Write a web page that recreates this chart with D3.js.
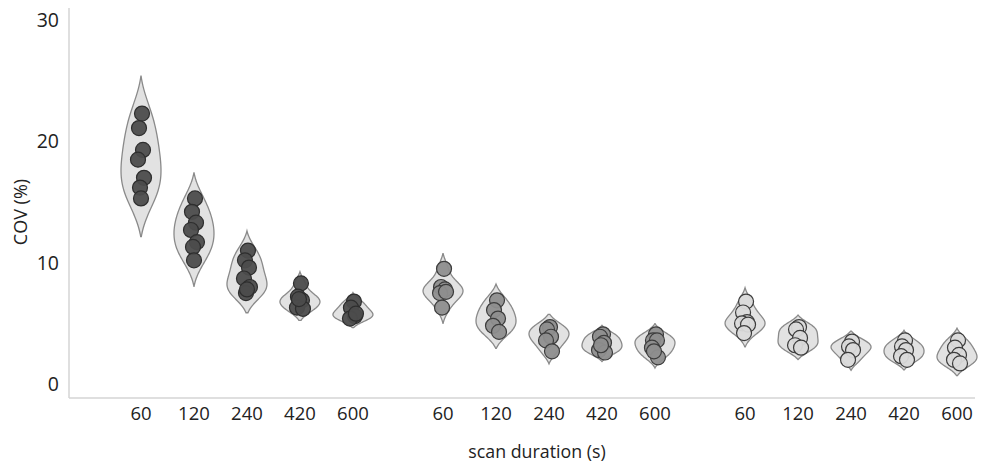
<!DOCTYPE html>
<html>
<head>
<meta charset="utf-8">
<script src="https://cdn.jsdelivr.net/npm/d3@7"></script>
<style>
  body { margin: 0; background: #fff; }
  svg { display: block; font-family: "Open Sans", sans-serif; }
</style>
</head>
<body>
<svg id="chart" width="983" height="463"></svg>
<script>
// ---- data ----
const durations = ["60", "120", "240", "420", "600"];
const groups = ["A", "B", "C"];
const yTicks = [0, 10, 20, 30];
const xTitle = "scan duration (s)";
const yTitle = "COV (%)";

// COV values (%) per scan duration, group A (dark)
const groupA = [
  [22.3, 21.1, 19.3, 18.5, 17.0, 16.2, 15.3],
  [15.3, 14.2, 13.3, 12.7, 11.7, 11.3, 10.2],
  [11.0, 10.2, 9.6, 8.7, 8.0, 7.5, 7.8],
  [8.3, 7.2, 6.9, 6.3, 6.2, 7.0],
  [6.8, 6.3, 5.6, 5.4, 5.8]
];
// group B (medium gray)
const groupB = [
  [9.5, 8.0, 7.8, 7.5, 7.6, 6.3],
  [6.9, 6.1, 5.4, 4.8, 4.3],
  [4.7, 4.5, 3.9, 3.6, 2.7],
  [4.1, 3.9, 3.4, 2.8, 2.6, 3.2],
  [4.1, 3.6, 3.6, 3.0, 2.2, 2.7]
];
// group C (light gray)
const groupC = [
  [6.8, 5.9, 5.1, 5.0, 4.9, 4.2],
  [4.7, 4.5, 3.8, 3.2, 3.0],
  [3.5, 3.1, 2.8, 2.0],
  [3.6, 3.1, 2.8, 2.3, 2.0],
  [3.6, 3.0, 2.4, 2.0, 1.7]
];
const seriesData = [groupA, groupB, groupC];
const dotFill = ["#4c4c4c", "#8e8e8e", "#dadada"];
const dotStroke = ["#2e2e2e", "#3c3c3c", "#3c3c3c"];

// ---- layout ----
const svg = d3.select("#chart");
const slotGap = 5.7;
const x = d3.scaleLinear().domain([0, 2 * slotGap + 4]).range([141, 957]);
const y = d3.scaleLinear().domain([-1.15, 31]).range([398, 8]);
const halfWidth = 20;
const r = 7.5;

// axes lines
svg.append("line").attr("x1", 69).attr("x2", 69).attr("y1", y(31)).attr("y2", y(-1.15))
  .attr("stroke", "#d4d4d4").attr("stroke-width", 1.5);
svg.append("line").attr("x1", 69).attr("x2", 975).attr("y1", y(-1.15)).attr("y2", y(-1.15))
  .attr("stroke", "#d4d4d4").attr("stroke-width", 1.5);

// y tick labels
svg.append("g").selectAll("text").data(yTicks).join("text")
  .attr("x", 59).attr("y", d => y(d)).attr("dy", "0.36em")
  .attr("text-anchor", "end").attr("font-size", 19.5).attr("fill", "#222")
  .text(d => d);

// y title
svg.append("text").attr("transform", `translate(27,212) rotate(-90)`)
  .attr("text-anchor", "middle").attr("font-size", 18).attr("fill", "#222").text(yTitle);

// x tick labels
const xLabels = [];
groups.forEach((g, gi) => durations.forEach((d, di) => xLabels.push({ s: gi * slotGap + di, t: d })));
svg.append("g").selectAll("text").data(xLabels).join("text")
  .attr("x", d => x(d.s)).attr("y", 413).attr("dy", "0.36em")
  .attr("text-anchor", "middle").attr("font-size", 18.5).attr("fill", "#222")
  .text(d => d.t);

svg.append("text").attr("x", 537).attr("y", 452).attr("dy", "0.36em")
  .attr("text-anchor", "middle").attr("font-size", 17.8).attr("fill", "#222").text(xTitle);

// KDE
function kde(vals, bw, lo, hi, n) {
  const pts = d3.range(n + 1).map(i => lo + (hi - lo) * i / n);
  return pts.map(v => [v, d3.mean(vals, d => Math.exp(-0.5 * ((v - d) / bw) ** 2))]);
}

const jitter = [1, -2, 2, -3, 3, -1, 0];

seriesData.forEach((series, gi) => {
  series.forEach((vals, di) => {
    const cx = x(gi * slotGap + di);
    const sd = d3.deviation(vals);
    const bw = Math.max(1.06 * sd * Math.pow(vals.length, -0.2), 0.3);
    const lo = d3.min(vals) - 1.7 * bw, hi = d3.max(vals) + 1.7 * bw;
    const dens = kde(vals, bw, lo, hi, 80);
    const dmin = Math.min(dens[0][1], dens[dens.length - 1][1]);
    const dmax = d3.max(dens, d => d[1]);
    const w = d3.scaleLinear().domain([dmin, dmax]).range([0, halfWidth]).clamp(true);
    const area = d3.area()
      .curve(d3.curveBasis)
      .y(d => y(d[0]))
      .x0(d => cx - w(d[1]))
      .x1(d => cx + w(d[1]));
    svg.append("path").datum(dens).attr("d", area)
      .attr("fill", "#e2e2e2").attr("stroke", "#8a8a8a").attr("stroke-width", 1.3);
    svg.append("g").selectAll("circle").data(vals).join("circle")
      .attr("cx", (d, i) => cx + jitter[i % jitter.length])
      .attr("cy", d => y(d)).attr("r", r)
      .attr("fill", dotFill[gi]).attr("stroke", dotStroke[gi]).attr("stroke-width", 1.2)
      .attr("fill-opacity", 0.95);
  });
});
</script>
</body>
</html>
